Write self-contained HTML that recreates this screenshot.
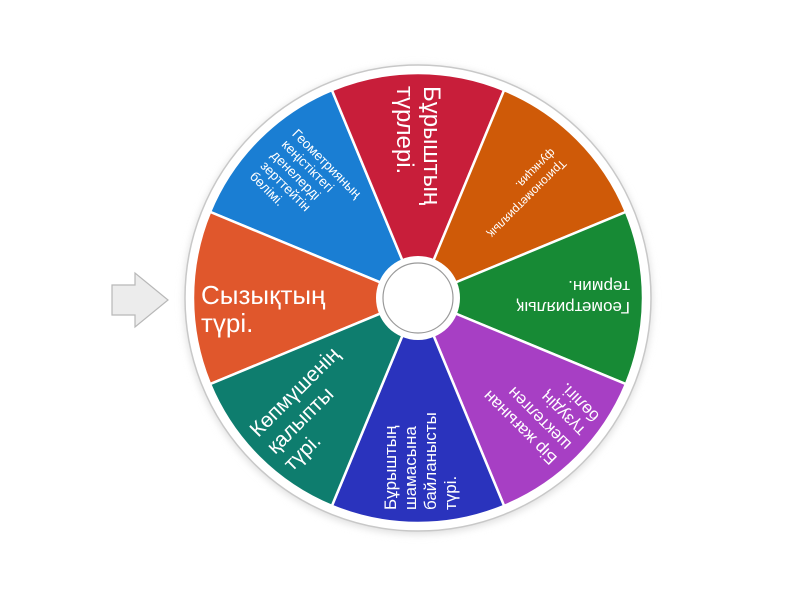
<!DOCTYPE html>
<html><head><meta charset="utf-8"><style>
html,body{margin:0;padding:0;background:#fff;}
svg{display:block;}
text{font-family:"Liberation Sans","DejaVu Sans",sans-serif;fill:#fff;}
</style></head><body>
<svg width="800" height="600" viewBox="0 0 800 600" xmlns="http://www.w3.org/2000/svg">
<defs>
<filter id="sh" x="-20%" y="-20%" width="140%" height="140%"><feGaussianBlur stdDeviation="4"/></filter>
</defs>
<polygon points="112,285 135,285 135,273 168,300 135,327 135,315 112,315" fill="#ececec" stroke="#b8b8b8" stroke-width="1.2"/>
<circle cx="418" cy="300" r="234" fill="#ddd" filter="url(#sh)"/>
<circle cx="418" cy="298" r="233" fill="#fff" stroke="#c8c8c8" stroke-width="1.5"/>
<g transform="translate(418,298)">
<g stroke="#fff" stroke-width="2.5">
<path d="M0,0 L-207.9,-86.1 A225,225 0 0 1 -86.1,-207.9 Z" fill="#1a7ed3"/>
<path d="M0,0 L-207.9,86.1 A225,225 0 0 1 -207.9,-86.1 Z" fill="#e0572c"/>
<path d="M0,0 L-86.1,-207.9 A225,225 0 0 1 86.1,-207.9 Z" fill="#c81e3a"/>
<path d="M0,0 L86.1,-207.9 A225,225 0 0 1 207.9,-86.1 Z" fill="#cf5a08"/>
<path d="M0,0 L207.9,-86.1 A225,225 0 0 1 207.9,86.1 Z" fill="#178a35"/>
<path d="M0,0 L207.9,86.1 A225,225 0 0 1 86.1,207.9 Z" fill="#a73fc4"/>
<path d="M0,0 L86.1,207.9 A225,225 0 0 1 -86.1,207.9 Z" fill="#2a33bd"/>
<path d="M0,0 L-86.1,207.9 A225,225 0 0 1 -207.9,86.1 Z" fill="#0e7d6e"/>
</g>
<g transform="rotate(0)" font-size="26"><text x="-217" y="6">Сызықтың</text><text x="-217" y="34">түрі.</text></g>
<g transform="rotate(90)" font-size="24"><text x="-212" y="-6">Бұрыштың</text><text x="-212" y="21">түрлері.</text></g>
<g transform="rotate(135)" font-size="12"><text x="-200" y="-3">Тригонометриялық</text><text x="-200" y="12">функция.</text></g>
<g transform="rotate(180)" font-size="17"><text x="-212" y="-4">Геометриялық</text><text x="-212" y="17">термин.</text></g>
<g transform="rotate(225)" font-size="17"><text x="-212" y="-14">Бір жағынан</text><text x="-212" y="6">шектелген</text><text x="-212" y="26">түзудің</text><text x="-212" y="46">бөлігі.</text></g>
<g transform="rotate(270)" font-size="17"><text x="-212" y="-22">Бұрыштың</text><text x="-212" y="-2">шамасына</text><text x="-212" y="18">байланысты</text><text x="-212" y="38">түрі.</text></g>
<g transform="rotate(315)" font-size="21"><text x="-212" y="-14">Көпмүшенің</text><text x="-212" y="10">қалыпты</text><text x="-212" y="34">түрі.</text></g>
<g transform="rotate(45)" font-size="13.5"><text x="-205" y="-26">Геометрияның</text><text x="-205" y="-11">кеңістіктегі</text><text x="-205" y="4">денелерді</text><text x="-205" y="19">зерттейтін</text><text x="-205" y="34">бөлімі.</text></g>
<circle cx="0" cy="0" r="42" fill="#fff"/>
<circle cx="0" cy="0" r="35" fill="#fff" stroke="#9a9a9a" stroke-width="1.2"/>
</g>
</svg>
</body></html>
